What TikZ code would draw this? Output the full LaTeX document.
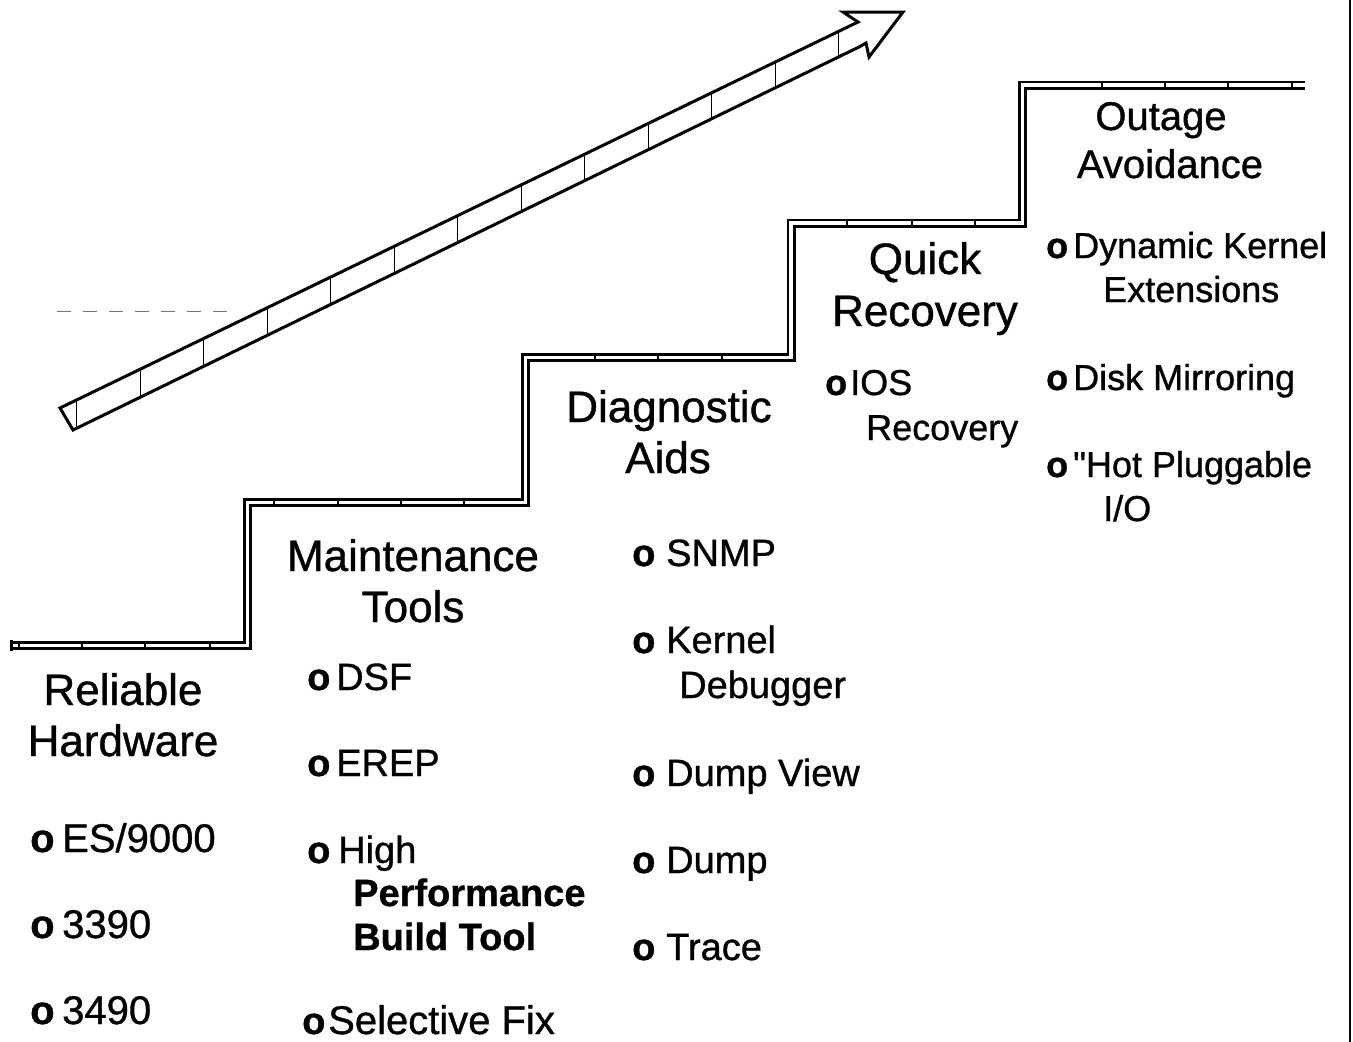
\documentclass[tikz,border=0pt]{standalone}
\usepackage{fontspec}
\setmainfont{Liberation Sans}[FakeBold=0.9]
\begin{document}
\begin{tikzpicture}[x=1pt,y=-1pt,
  head/.style={font=\fontsize{44}{50}\selectfont, anchor=base, inner sep=0pt},
  item/.style={font=\fontsize{38}{44}\selectfont, anchor=base west, inner sep=0pt},
  bul/.style={font=\fontsize{38}{44}\selectfont\bfseries, anchor=base west, inner sep=0pt},
  stair/.style={line width=2.8pt, double distance=3.4pt, line join=miter},
  stick/.style={line width=1.6pt},
  arrowline/.style={line width=3pt, line join=miter},
]
\useasboundingbox (0,0) rectangle (1353,1042);

% right border
\draw[line width=2.5pt] (1350,0) -- (1350,1042);

% faint dashed line
\draw[black!55, line width=1pt, dash pattern=on 14pt off 12pt] (57,311) -- (227,311);

% rising arrow
\draw[arrowline] (60,408) -- (858,22) -- (843,12) -- (903,12) -- (869,57) -- (866,43) -- (860,46.5) -- (73,430) -- cycle;
\foreach \k in {0,...,12}{
  \pgfmathsetmacro\xx{76.5+63.5*\k}
  \pgfmathsetmacro\yu{408-0.4837*(\xx-60)}
  \pgfmathsetmacro\yl{430-0.4873*(\xx-73)}
  \draw[line width=1pt] (\xx,\yu) -- (\xx,\yl);
}

% staircase
\draw[stair] (10,645.5) -- (247.5,645.5) -- (247.5,502.5) -- (525.5,502.5) -- (525.5,357.5)
  -- (791,357.5) -- (791,223) -- (1022.5,223) -- (1022.5,85) -- (1305,85);
\draw[line width=2.6pt] (11.3,640) -- (11.3,651);
\foreach \x in {19,82,145,210}{\draw[stick] (\x,643) -- (\x,648);}
\foreach \x in {274,338,401,464}{\draw[stick] (\x,500) -- (\x,505);}
\foreach \x in {595,658,722}{\draw[stick] (\x,355) -- (\x,360);}
\foreach \x in {847,912,975}{\draw[stick] (\x,220.5) -- (\x,225.5);}
\foreach \x in {1102,1165,1228,1292}{\draw[stick] (\x,82.5) -- (\x,87.5);}

% column 1
\node[head] (rel) at (123,705) {Reliable};
\node[head] (hw) at (123,756) {Hardware};
\node[bul,font=\fontsize{40}{44}\selectfont\bfseries] (b11) at (30,852) {o};
\node[item,font=\fontsize{40}{44}\selectfont] (es) at (62,852) {ES/9000};
\node[bul,font=\fontsize{40}{44}\selectfont\bfseries] (b12) at (30,938) {o};
\node[item,font=\fontsize{40}{44}\selectfont] (d3390) at (62,938) {3390};
\node[bul,font=\fontsize{40}{44}\selectfont\bfseries] (b13) at (30,1024) {o};
\node[item,font=\fontsize{40}{44}\selectfont] (d3490) at (62,1024) {3490};

% column 2
\node[head] (mt) at (413,571) {Maintenance};
\node[head] (tl) at (413,622) {Tools};
\node[bul] (b21) at (307,690) {o};
\node[item] (dsf) at (336,690) {DSF};
\node[bul] (b22) at (307,776) {o};
\node[item] (erep) at (336,776) {EREP};
\node[bul] (b23) at (307,863) {o};
\node[item] (high) at (338,863) {High};
\node[item,font=\fontsize{38}{44}\selectfont\bfseries] (perf) at (353,906) {Performance};
\node[item,font=\fontsize{38}{44}\selectfont\bfseries] (bt) at (353,950) {Build Tool};
\node[bul] (b24) at (302,1034) {o};
\node[item,font=\fontsize{40}{44}\selectfont] (sf) at (328,1034) {Selective Fix};

% column 3
\node[head] (dg) at (669,422) {Diagnostic};
\node[head] (aids) at (668,473) {Aids};
\node[bul] (b31) at (632,566) {o};
\node[item] (snmp) at (666,566) {SNMP};
\node[bul] (b32) at (632,653) {o};
\node[item] (kern) at (666,653) {Kernel};
\node[item] (dbg) at (679,698) {Debugger};
\node[bul] (b33) at (632,786) {o};
\node[item] (dv) at (666,786) {Dump View};
\node[bul] (b34) at (632,873) {o};
\node[item] (dump) at (666,873) {Dump};
\node[bul] (b35) at (632,960) {o};
\node[item] (trace) at (666,960) {Trace};

% column 4
\node[head] (qk) at (925,274) {Quick};
\node[head] (rc) at (925,326) {Recovery};
\node[bul,font=\fontsize{36}{40}\selectfont\bfseries] (b41) at (825,395) {o};
\node[item,font=\fontsize{36}{40}\selectfont] (ios) at (850,395) {IOS};
\node[item,font=\fontsize{36}{40}\selectfont] (rc2) at (866,440) {Recovery};

% column 5
\node[head,font=\fontsize{40}{44}\selectfont] (ou) at (1161,130) {Outage};
\node[head,font=\fontsize{40}{44}\selectfont] (av) at (1170,178) {Avoidance};
\node[bul,font=\fontsize{36}{40}\selectfont\bfseries] (b51) at (1046,258) {o};
\node[item,font=\fontsize{36}{40}\selectfont] (dk) at (1073,258) {Dynamic Kernel};
\node[item,font=\fontsize{36}{40}\selectfont] (ext) at (1103,302) {Extensions};
\node[bul,font=\fontsize{36}{40}\selectfont\bfseries] (b52) at (1046,390) {o};
\node[item,font=\fontsize{36}{40}\selectfont] (dm) at (1073,390) {Disk Mirroring};
\node[bul,font=\fontsize{36}{40}\selectfont\bfseries] (b53) at (1046,477) {o};
\node[item,font=\fontsize{36}{40}\selectfont] (hp) at (1073,477) {\textquotedbl Hot Pluggable};
\node[item,font=\fontsize{36}{40}\selectfont] (io) at (1103,521) {I/O};
\end{tikzpicture}
\end{document}
